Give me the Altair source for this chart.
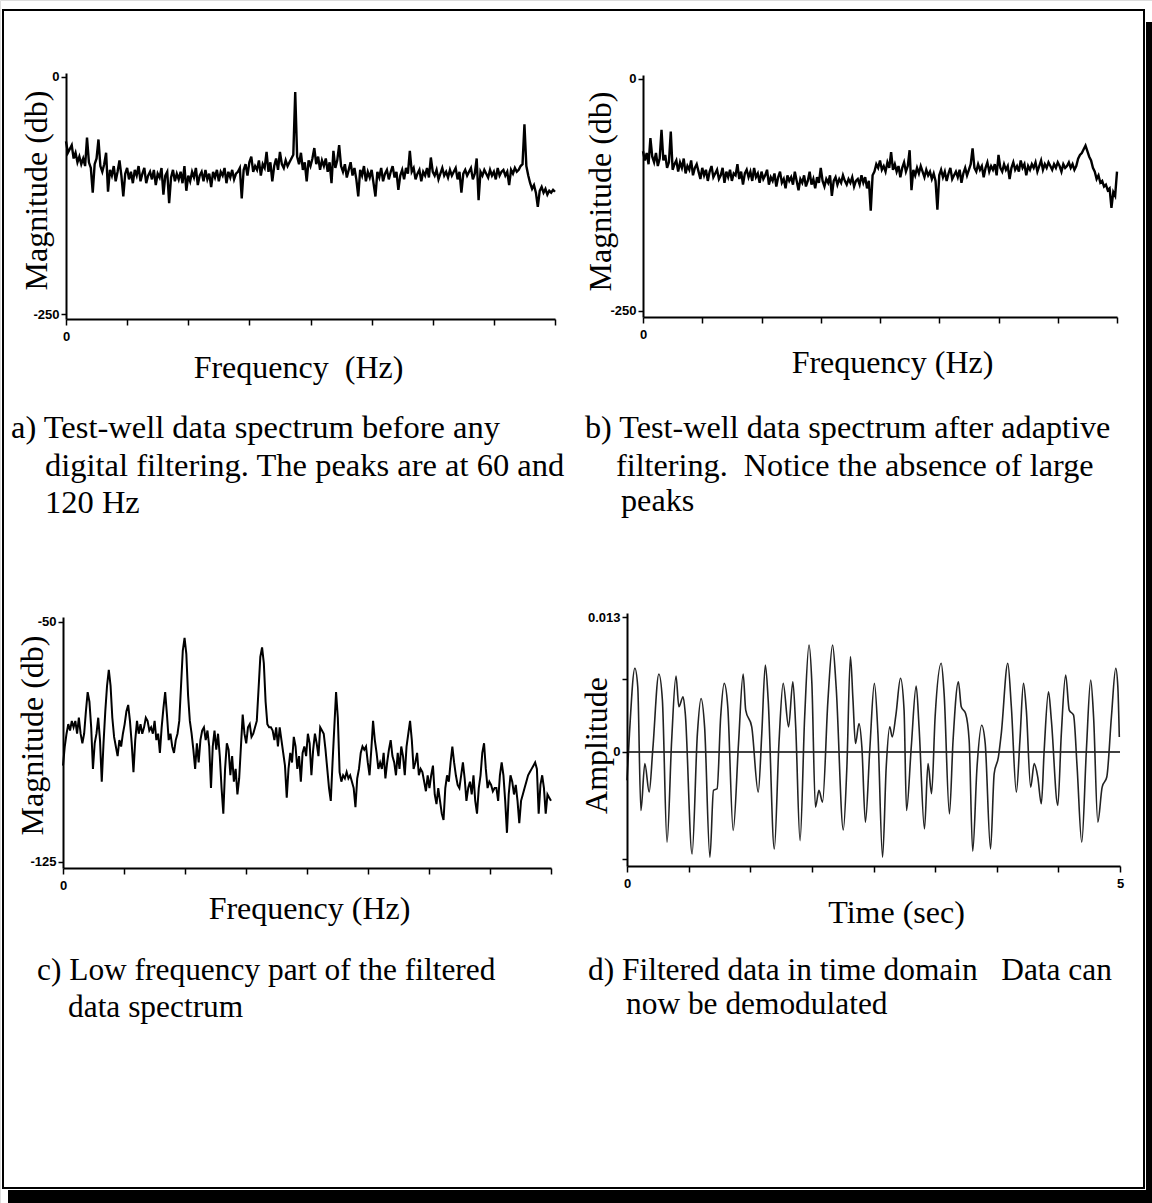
import altair as alt
import pandas as pd

# ------------------------------------------------------------------
# DATA
# ------------------------------------------------------------------
# a) raw spectrum, magnitude in dB, one value every 0.5 Hz from 0 to 128 Hz
spec_a_db = [
    -68, -80, -76, -72, -86, -80, -90, -84, -92, -86,
    -94, -64, -90, -96, -122, -92, -86, -66, -94, -100,
    -92, -80, -121, -98, -104, -94, -110, -100, -88, -104,
    -126, -102, -96, -108, -100, -112, -98, -104, -94, -110,
    -102, -96, -112, -104, -100, -108, -98, -114, -102, -106,
    -96, -124, -104, -100, -133, -106, -98, -110, -102, -108,
    -100, -112, -94, -120, -104, -110, -100, -106, -96, -114,
    -104, -100, -110, -98, -108, -102, -116, -100, -106, -98,
    -110, -100, -104, -96, -112, -100, -106, -98, -108, -102,
    -100, -96, -128, -98, -92, -104, -90, -84, -100, -94,
    -98, -88, -104, -92, -96, -79, -100, -90, -110, -94,
    -86, -98, -79, -92, -96, -88, -94, -90, -86, -82,
    -16, -84, -92, -80, -98, -90, -110, -88, -94, -86,
    -75, -92, -84, -98, -88, -94, -86, -100, -90, -112,
    -78, -96, -88, -72, -94, -100, -92, -106, -98, -90,
    -104, -96, -108, -126, -98, -104, -94, -110, -100, -106,
    -98, -112, -126, -100, -106, -96, -110, -102, -98, -108,
    -100, -94, -106, -100, -119, -104, -98, -108, -96, -102,
    -78, -100, -96, -108, -102, -98, -110, -100, -104, -96,
    -106, -85, -100, -104, -98, -108, -102, -96, -104, -100,
    -106, -98, -104, -100, -96, -108, -100, -122, -102, -98,
    -104, -100, -96, -108, -102, -86, -130, -100, -104, -98,
    -102, -106, -98, -104, -100, -108, -96, -104, -100, -98,
    -104, -100, -114, -98, -102, -96, -100, -98, -94, -92,
    -50, -94, -104, -112, -118, -114, -122, -137, -120, -116,
    -122, -118, -124, -120, -122, -119, -121,
]

# b) spectrum after adaptive filtering, dB every 0.5 Hz from 0 to 128 Hz
spec_b_db = [
    -78, -88, -80, -92, -64, -84, -90, -80, -94, -86,
    -55, -88, -82, -96, -90, -57, -98, -92, -88, -100,
    -90, -96, -86, -102, -94, -98, -88, -104, -96, -92,
    -100, -108, -96, -104, -98, -110, -100, -94, -106, -102,
    -98, -108, -104, -96, -112, -100, -106, -98, -110, -102,
    -104, -92, -108, -100, -114, -102, -98, -106, -100, -110,
    -96, -106, -102, -112, -100, -108, -104, -98, -114, -106,
    -110, -102, -116, -106, -100, -112, -108, -118, -104, -110,
    -106, -114, -100, -110, -120, -108, -112, -104, -116, -110,
    -100, -114, -108, -118, -106, -112, -96, -110, -116, -108,
    -112, -104, -126, -110, -106, -114, -108, -112, -104, -110,
    -114, -108, -112, -106, -116, -110, -108, -114, -104, -112,
    -106, -118, -110, -142, -104, -100, -92, -96, -88, -98,
    -94, -100, -90, -96, -79, -98, -92, -100, -94, -106,
    -96, -90, -100, -94, -77, -120, -98, -104, -96, -102,
    -94, -100, -106, -98, -104, -100, -108, -102, -110, -141,
    -104, -98, -106, -100, -110, -102, -96, -108, -104, -100,
    -106, -98, -112, -102, -96, -104, -98, -92, -75, -96,
    -100, -92, -98, -94, -106, -96, -90, -100, -94, -98,
    -92, -104, -82, -96, -100, -92, -98, -94, -108, -96,
    -90, -98, -94, -100, -88, -96, -92, -104, -94, -98,
    -92, -96, -90, -100, -94, -88, -98, -92, -96, -90,
    -94, -98, -92, -96, -90, -94, -100, -92, -96, -94,
    -90, -96, -92, -98, -94, -86, -82, -80, -76, -72,
    -78, -84, -88, -96, -100, -108, -104, -112, -110, -116,
    -114, -120, -118, -139, -122, -126, -100,
]

# c) low-frequency part of the filtered spectrum, dB per frequency bin
spec_c_db = [
    -95, -89, -85, -82, -84, -81, -83, -81, -85, -80,
    -85, -88, -85, -78, -72, -75, -83, -96, -88, -85,
    -80, -87, -100, -88, -78, -70, -65, -70, -80, -86,
    -89, -92, -87, -89, -85, -82, -78, -76, -81, -88,
    -97, -87, -81, -85, -82, -85, -83, -80, -81, -84,
    -83, -85, -81, -87, -85, -91, -83, -77, -72, -79,
    -87, -85, -89, -91, -87, -85, -81, -70, -59, -55,
    -60, -73, -81, -85, -90, -96, -88, -94, -87, -84,
    -83, -87, -84, -89, -102, -89, -84, -90, -85, -92,
    -102, -110, -96, -88, -90, -98, -92, -100, -96, -104,
    -99, -89, -79, -85, -88, -83, -82, -86, -85, -83,
    -81, -71, -61, -58, -63, -75, -82, -83, -83, -84,
    -87, -83, -89, -83, -87, -91, -95, -105, -96, -91,
    -94, -86, -89, -96, -92, -100, -91, -89, -92, -85,
    -88, -98, -90, -85, -88, -92, -83, -84, -85, -90,
    -96, -102, -106, -94, -83, -72, -80, -97, -100, -98,
    -99, -97, -99, -98, -100, -102, -108, -99, -96, -91,
    -89, -90, -89, -94, -98, -90, -81, -87, -91, -96,
    -94, -96, -91, -99, -94, -90, -87, -92, -94, -98,
    -91, -96, -89, -92, -98, -89, -85, -81, -87, -96,
    -94, -91, -98, -96, -97, -100, -103, -98, -102, -98,
    -95, -104, -107, -102, -106, -110, -112, -102, -98, -100,
    -94, -89, -94, -98, -101, -102, -98, -94, -99, -106,
    -102, -100, -104, -98, -106, -110, -102, -98, -91, -88,
    -96, -102, -100, -101, -103, -102, -102, -106, -98, -94,
    -98, -106, -116, -104, -98, -100, -104, -101, -106, -113,
    -106, -104, -102, -100, -98, -97, -96, -95, -94, -96,
    -110, -101, -98, -102, -110, -104, -105, -106,
]

# d) filtered data in the time domain (turning points of the trace)
time_s = [
    0.000, 0.025, 0.080, 0.109, 0.141, 0.181, 0.225, 0.261, 0.323, 0.359,
    0.406, 0.453, 0.497, 0.526, 0.569, 0.591, 0.660, 0.714, 0.751, 0.787,
    0.841, 0.877, 0.914, 0.950, 0.986, 1.022, 1.077, 1.131, 1.178, 1.204,
    1.265, 1.331, 1.367, 1.403, 1.432, 1.494, 1.541, 1.584, 1.639, 1.682,
    1.711, 1.755, 1.802, 1.846, 1.875, 1.911, 1.947, 1.983, 2.038, 2.085,
    2.121, 2.194, 2.230, 2.266, 2.292, 2.317, 2.353, 2.382, 2.418, 2.462,
    2.509, 2.545, 2.592, 2.629, 2.665, 2.690, 2.727, 2.774, 2.810, 2.835,
    2.883, 2.933, 2.962, 3.017, 3.053, 3.089, 3.125, 3.187, 3.216, 3.270,
    3.307, 3.361, 3.390, 3.434, 3.470, 3.506, 3.550, 3.597, 3.633, 3.687,
    3.724, 3.767, 3.796, 3.862, 3.898, 3.949, 3.985, 4.021, 4.050, 4.094,
    4.130, 4.166, 4.202, 4.231, 4.275, 4.304, 4.369, 4.405, 4.449, 4.485,
    4.529, 4.565, 4.612, 4.659, 4.703, 4.732, 4.775, 4.819, 4.866, 4.913,
    4.957, 4.978, 4.993,
]
amplitude = [
    -0.00274, 0.00177, 0.00807, 0.00629, -0.00565, -0.00113, -0.00387, 0.00016, 0.00752, 0.00500,
    -0.00871, 0.00113, 0.00732, 0.00436, 0.00532, 0.00371, -0.00984, 0.00177, 0.00516, 0.00242,
    -0.01016, -0.00371, -0.00355, 0.00339, 0.00661, 0.00436, -0.00758, 0.00081, 0.00752, 0.00403,
    0.00242, -0.00387, 0.00177, 0.00839, 0.00500, -0.00936, 0.00081, 0.00661, 0.00242, 0.00677,
    0.00242, -0.00855, 0.00339, 0.01032, 0.00661, -0.00532, -0.00371, -0.00484, 0.00500, 0.01032,
    0.00629, -0.00752, -0.00145, 0.00919, 0.00500, 0.00081, 0.00274, 0.00048, -0.00677, 0.00016,
    0.00661, 0.00177, -0.01016, -0.00145, 0.00242, 0.00145, 0.00355, 0.00710, 0.00403, -0.00565,
    0.00048, 0.00636, 0.00242, -0.00742, -0.00113, -0.00403, 0.00339, 0.00855, 0.00565, -0.00597,
    0.00113, 0.00677, 0.00436, 0.00371, 0.00113, -0.00958, -0.00145, 0.00258, 0.00081, -0.00936,
    -0.00210, -0.00048, 0.00177, 0.00855, 0.00436, -0.00387, 0.00113, 0.00661, 0.00403, -0.00339,
    -0.00113, -0.00242, -0.00500, 0.00016, 0.00581, 0.00306, -0.00516, 0.00177, 0.00742, 0.00403,
    0.00355, -0.00145, -0.00871, 0.00016, 0.00694, 0.00339, -0.00677, -0.00339, -0.00242, 0.00339,
    0.00807, 0.00629, 0.00145,
]

# axis tick values / labels
freq_ticks_hz = [0, 16, 32, 48, 64, 80, 96, 112, 128]
db_ticks_ab = [0, -250]
db_ticks_c = [-50, -125]
time_ticks_s = [0, 0.625, 1.25, 1.875, 2.5, 3.125, 3.75, 4.375, 5]
amp_ticks = [0.013, 0.007, 0, -0.0103]

captions = {
    "a": ["a) Test-well data spectrum before any",
          "digital filtering. The peaks are at 60 and",
          "120 Hz"],
    "b": ["b) Test-well data spectrum after adaptive",
          "filtering.\u00a0 Notice the absence of large",
          "peaks"],
    "c": ["c) Low frequency part of the filtered",
          "data spectrum"],
    "d": ["d) Filtered data in time domain\u00a0\u00a0 Data can",
          "now be demodulated"],
}

# ------------------------------------------------------------------
# LAYOUT (pixels)
# ------------------------------------------------------------------
W, H = 1152, 1203
SERIF = "Liberation Serif"
SANS = "Liberation Sans"

df_a = pd.DataFrame({"hz": [i * 0.5 for i in range(len(spec_a_db))], "db": spec_a_db})
df_b = pd.DataFrame({"hz": [i * 0.5 for i in range(len(spec_b_db))], "db": spec_b_db})
df_c = pd.DataFrame({"bin": list(range(len(spec_c_db))), "db": spec_c_db})
df_d = pd.DataFrame({"t": time_s, "a": amplitude})
df_zero = pd.DataFrame({"t": [0, 5], "a": [0, 0]})
n_c = len(spec_c_db) - 1
bin_ticks_c = [k * n_c / 8 for k in range(9)]

common_axis = dict(
    grid=False, domainColor="black", domainWidth=2, tickColor="black",
    tickWidth=1.5, labelFont=SANS, labelFontSize=13, labelFontWeight="bold",
    labelColor="black", titleFont=SERIF, titleFontSize=32,
    titleFontWeight="normal", titleColor="black", labelFlush=False, zindex=1,
)


def x_axis(values, label_expr, axis_y, title, title_cx, title_base):
    return alt.Axis(orient="bottom", offset=axis_y - H, values=values,
                    labelExpr=label_expr, tickSize=6, labelPadding=5,
                    title=title, titleX=title_cx, titleY=title_base - axis_y,
                    titleAlign="center", titleBaseline="alphabetic",
                    titleAngle=0, **common_axis)


def y_axis(values, label_expr, axis_x, title, title_cx, title_cy):
    return alt.Axis(orient="left", offset=-axis_x, values=values,
                    labelExpr=label_expr, tickSize=5, labelPadding=2,
                    title=title, titleX=title_cx - axis_x, titleY=title_cy,
                    titleAlign="center", titleBaseline="middle",
                    titleAngle=270, **common_axis)


first_only = "datum.value == 0 ? '0' : ''"
signed = "datum.value < 0 ? '-' + format(-datum.value, 'd') : format(datum.value, 'd')"

# panel a
panel_a = alt.Chart(df_a).mark_line(color="black", strokeWidth=2.4, strokeJoin="miter").encode(
    x=alt.X("hz:Q", scale=alt.Scale(domain=[0, 128], range=[66, 555], nice=False, zero=False),
            axis=x_axis(freq_ticks_hz, first_only, 319, "Frequency\u00a0 (Hz)", 298, 377)),
    y=alt.Y("db:Q", scale=alt.Scale(domain=[-255, 4], range=[319, 73], nice=False, zero=False),
            axis=y_axis(db_ticks_ab, signed, 66, "Magnitude (db)", 36, 190)),
)

# panel b
panel_b = alt.Chart(df_b).mark_line(color="black", strokeWidth=2.4, strokeJoin="miter").encode(
    x=alt.X("hz:Q", scale=alt.Scale(domain=[0, 128], range=[643, 1117], nice=False, zero=False),
            axis=x_axis(freq_ticks_hz, first_only, 317, "Frequency (Hz)", 892, 372)),
    y=alt.Y("db:Q", scale=alt.Scale(domain=[-256.5, 4], range=[317, 75], nice=False, zero=False),
            axis=y_axis(db_ticks_ab, signed, 643, "Magnitude (db)", 600, 191)),
)

# panel c
panel_c = alt.Chart(df_c).mark_line(color="black", strokeWidth=2.0).encode(
    x=alt.X("bin:Q", scale=alt.Scale(domain=[0, n_c], range=[63, 551], nice=False, zero=False),
            axis=x_axis(bin_ticks_c, first_only, 868, "Frequency (Hz)", 309, 918)),
    y=alt.Y("db:Q", scale=alt.Scale(domain=[-127, -48.5], range=[868, 617], nice=False, zero=False),
            axis=y_axis(db_ticks_c, signed, 63, "Magnitude (db)", 32, 735)),
)

# panel d
d_x = alt.X("t:Q", scale=alt.Scale(domain=[0, 5], range=[627, 1120], nice=False, zero=False),
            axis=x_axis(time_ticks_s, "datum.value == 0 || datum.value == 5 ? format(datum.value, 'd') : ''",
                        866, "Time (sec)", 896, 922))
d_y = alt.Y("a:Q", scale=alt.Scale(domain=[-0.011, 0.0134], range=[866, 613], nice=False, zero=False),
            axis=y_axis(amp_ticks, "datum.value == 0 ? '0' : (datum.value > 0.012 ? format(datum.value, '.3f') : '')",
                        627, "Amplitude", 596, 745))
zero_line = alt.Chart(df_zero).mark_line(color="black", strokeWidth=1.5).encode(x=d_x, y=d_y)
d_line = alt.Chart(df_d).mark_line(color="#222222", strokeWidth=1.6, interpolate="monotone").encode(x=d_x, y=d_y)
panel_d = alt.layer(zero_line, d_line)

# frame + shadow
one = pd.DataFrame({"k": [0]})
frame = alt.Chart(one).mark_rect(fill="transparent", stroke="black", strokeWidth=2).encode(
    x=alt.value(3), x2=alt.value(1144), y=alt.value(10), y2=alt.value(1188))
shadow_r = alt.Chart(one).mark_rect(color="black").encode(
    x=alt.value(1146), x2=alt.value(W), y=alt.value(22), y2=alt.value(H))
shadow_b = alt.Chart(one).mark_rect(color="black").encode(
    x=alt.value(8), x2=alt.value(W), y=alt.value(1190), y2=alt.value(H))

# captions
cap_pos = {
    "a": [(11, 438), (45, 476), (45, 513)],
    "b": [(585, 438), (616, 476), (621, 511)],
    "c": [(37, 980), (68, 1017)],
    "d": [(588, 980), (626, 1014)],
}
cap_size = {"a": 32.5, "b": 32.2, "c": 31.4, "d": 31.4}
cap_layers = []
for key, lines in captions.items():
    for txt, (px, py) in zip(lines, cap_pos[key]):
        cap_layers.append(
            alt.Chart(one).mark_text(align="left", baseline="alphabetic", font=SERIF,
                                     fontSize=cap_size[key], color="black").encode(
                x=alt.value(px), y=alt.value(py), text=alt.value(txt)))

chart = alt.layer(frame, shadow_r, shadow_b, panel_a, panel_b, panel_c, panel_d, *cap_layers).resolve_scale(
    x="independent", y="independent"
).properties(
    width=W, height=H, padding=0, autosize=alt.AutoSizeParams(type="none"),
).configure_view(stroke="transparent").configure(background="white")

chart.save("out.html", embed_options={"renderer": "svg", "actions": False})
